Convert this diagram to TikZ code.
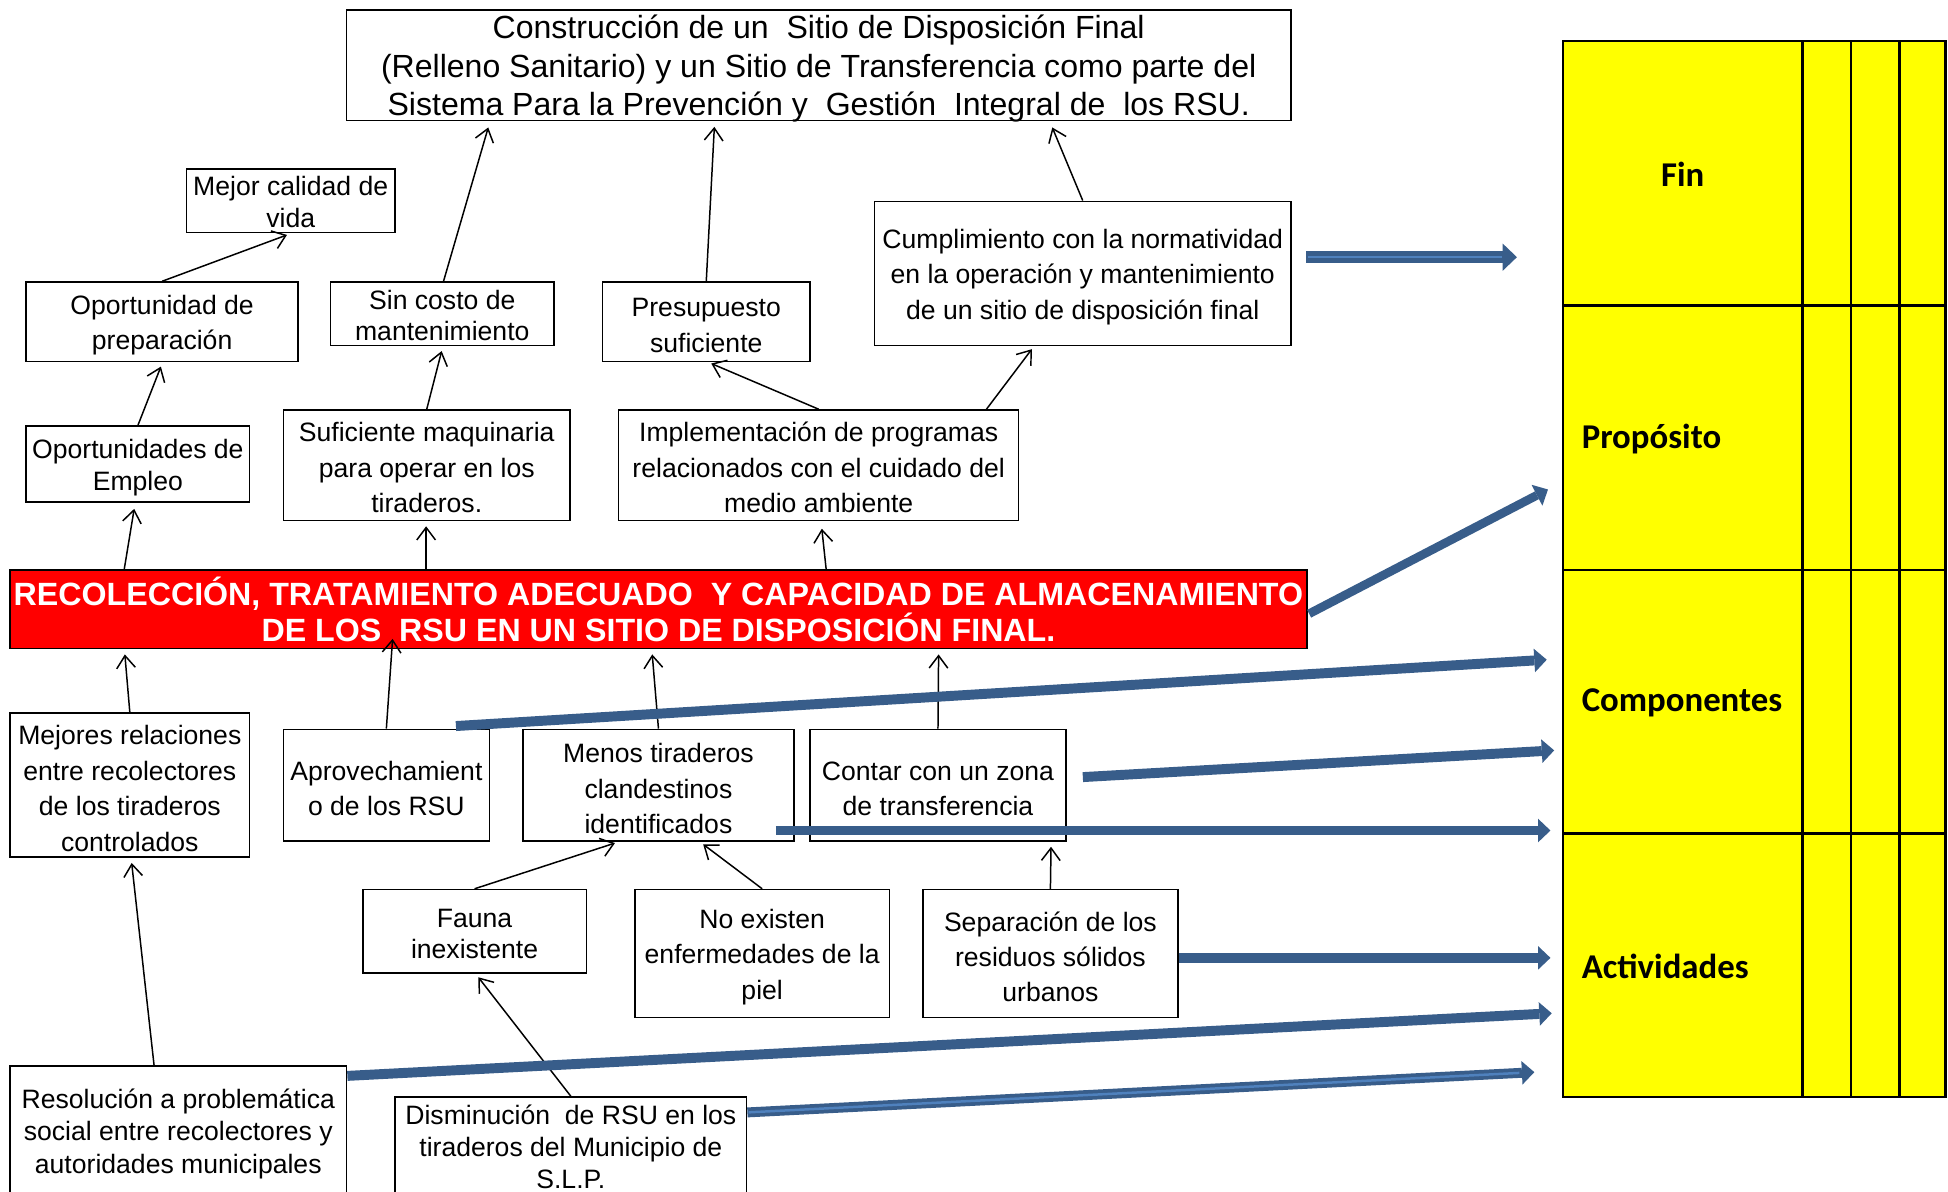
\documentclass[tikz,border=0pt]{standalone}
\usepackage{fontspec}
\setmainfont{Liberation Sans}
\newfontfamily\calib{Carlito}
\usetikzlibrary{arrows.meta,calc}
\definecolor{arrowblue}{RGB}{56,93,138}
\definecolor{stripeblue}{RGB}{79,129,189}
\definecolor{tabyellow}{RGB}{255,255,0}
\definecolor{boxred}{RGB}{255,0,0}
\newcommand\uppad{\rule{0pt}{21pt}}
\begin{document}
\begin{tikzpicture}[x=1pt,y=-1pt,
  nbox/.style={draw=black, line width=1.2pt, fill=white, inner sep=0pt, align=center,
    font=\fontsize{21.4}{28.5}\selectfont},
  tightbox/.style={nbox, font=\fontsize{21.4}{25.5}\selectfont},
  thinarr/.style={draw=black, line width=1.2pt, -{Straight Barb[length=10pt,width=15pt]}},
  bluearr/.style={draw=arrowblue, line width=8pt, -{Triangle[length=10pt,width=19pt,line width=0pt]}},
  finarr/.style={draw=arrowblue, line width=10pt, -{Triangle[length=11.5pt,width=22pt,line width=0pt]}},
  stripe/.style={draw=stripeblue, line width=2pt, shorten >=12pt, shorten <=1pt},
  lbl/.style={inner sep=0pt, font=\calib\bfseries\fontsize{28}{32}\selectfont}
]
\useasboundingbox (0,0) rectangle (1568,959);
\fill[white] (0,0) rectangle (1568,959);
\clip (0,0) rectangle (1568,959);

% ---------- table ----------
\fill[tabyellow] (1258,33) rectangle (1566,883);
\begin{scope}[line width=2pt]
\draw (1258,33) rectangle (1566,883);
\foreach \yy in {246,459,671} \draw (1258,\yy) -- (1566,\yy);
\foreach \xx in {1451,1490,1529} \draw (\xx,33) -- (\xx,883);
\end{scope}
\node[lbl] (lfin) at (1354.5,140) {Fin};
\node[lbl, anchor=west] (lprop) at (1273,353) {Propósito};
\node[lbl, anchor=west] (lcomp) at (1273,566) {Componentes};
\node[lbl, anchor=west] (lact) at (1273,778) {Actividades};

% ---------- boxes ----------
\node[nbox, minimum width=760pt, minimum height=89pt, font=\fontsize{25.8}{31}\selectfont] (top) at (659,52.5)
 {Construcción de un\ \ Sitio de Disposición Final\\(Relleno Sanitario) y un Sitio de Transferencia como parte del\\\smash{Sistema Para la Prevención y\ \ Gestión\ \ Integral de\ \ los RSU.}};
\node[tightbox, minimum width=168pt, minimum height=51pt] (mejor) at (234,161.5) {\rule{0pt}{17.5pt}Mejor calidad de\\vida};
\node[nbox, minimum width=219pt, minimum height=64pt] (oprep) at (130.5,259) {\uppad Oportunidad de\\preparación};
\node[tightbox, minimum width=180pt, minimum height=51pt] (sincosto) at (356,252.5) {\rule{0pt}{18.5pt}Sin costo de\\mantenimiento};
\node[nbox, minimum width=167pt, minimum height=64pt] (presup) at (568.5,259) {\uppad Presupuesto\\suficiente};
\node[nbox, minimum width=335pt, minimum height=116pt] (cumpl) at (871.5,220) {\uppad Cumplimiento con la normatividad\\en la operación y mantenimiento\\de un sitio de disposición final};
\node[tightbox, minimum width=180pt, minimum height=61pt] (empleo) at (111,373.5) {\uppad Oportunidades de\\Empleo};
\node[nbox, minimum width=231pt, minimum height=89pt] (sufic) at (343.5,374.5) {\rule{0pt}{19.5pt}Suficiente maquinaria\\para operar en los\\tiraderos.};
\node[nbox, minimum width=322pt, minimum height=89pt] (implem) at (659,374.5) {\rule{0pt}{19.5pt}Implementación de programas\\relacionados con el cuidado del\\medio ambiente};

\node[draw=black, line width=1.5pt, fill=boxred, text=white, inner sep=0pt, align=center,
  minimum width=1044pt, minimum height=63pt, font=\bfseries\fontsize{25.9}{29}\selectfont] (red) at (530,490.5)
 {RECOLECCIÓN, TRATAMIENTO ADECUADO\ \ Y CAPACIDAD DE ALMACENAMIENTO\\DE LOS\ \ RSU EN UN SITIO DE DISPOSICIÓN FINAL.};

\node[nbox, minimum width=193pt, minimum height=116pt] (mejores) at (104.5,632) {\uppad Mejores relaciones\\entre recolectores\\de los tiraderos\\controlados};
\node[nbox, minimum width=166pt, minimum height=90pt] (aprov) at (311,632) {\uppad Aprovechamient\\o de los RSU};
\node[nbox, minimum width=218pt, minimum height=90pt] (menos) at (530,632) {\uppad Menos tiraderos\\clandestinos\\identificados};
\node[nbox, minimum width=206pt, minimum height=90pt] (contar) at (755,632) {\uppad Contar con un zona\\de transferencia};
\node[tightbox, minimum width=180pt, minimum height=67pt] (fauna) at (382,749.5) {\rule{0pt}{19.5pt}Fauna\\inexistente};
\node[nbox, minimum width=205pt, minimum height=103pt] (noexist) at (613.5,767.5) {\uppad No existen\\enfermedades de la\\piel};
\node[nbox, minimum width=205pt, minimum height=103pt] (separ) at (845.5,767.5) {\uppad Separación de los\\residuos sólidos\\urbanos};
\node[nbox, minimum width=271pt, minimum height=104pt, font=\fontsize{21.4}{26}\selectfont] (resol) at (143.5,910) {\uppad Resolución a problemática\\social entre recolectores y\\autoridades municipales};
\node[nbox, minimum width=283pt, minimum height=80pt, font=\fontsize{21.4}{25.5}\selectfont] (dismin) at (459.5,923) {Disminución\ \ de RSU en los\\tiraderos del Municipio de\\S.L.P.};

% ---------- thin arrows ----------
\draw[thinarr] ([xshift=1pt]sincosto.north) -- ([xshift=-266pt,yshift=-5pt]top.south);
\draw[thinarr] (presup.north) -- ([xshift=-84pt,yshift=-4.5pt]top.south);
\draw[thinarr] (cumpl.north) -- ([xshift=188pt,yshift=-5pt]top.south);
\draw[thinarr] (oprep.north) -- ([xshift=-3pt,yshift=-1.5pt]mejor.south);
\draw[thinarr] (empleo.north) -- ([xshift=-1pt,yshift=-3.5pt]oprep.south);
\draw[thinarr] (sufic.north) -- ([xshift=-0.5pt,yshift=-4pt]sincosto.south);
\draw[thinarr] (implem.north) -- ([xshift=4pt,yshift=-1pt]presup.south);
\draw[thinarr] ([xshift=135pt]implem.north) -- ([xshift=-41pt,yshift=-2.5pt]cumpl.south);
\draw[thinarr] ([xshift=-430pt]red.north) -- ([xshift=-3pt,yshift=-5pt]empleo.south);
\draw[thinarr] ([xshift=-187pt]red.north) -- ([xshift=-0.5pt,yshift=-4pt]sufic.south);
\draw[thinarr] ([xshift=135pt]red.north) -- ([xshift=2.5pt,yshift=-6pt]implem.south);
\draw[thinarr] (mejores.north) -- ([xshift=-429.5pt,yshift=-4pt]red.south);
\draw[thinarr] (aprov.north) -- ([xshift=-214pt,yshift=8.5pt]red.south);
\draw[thinarr] (menos.north) -- ([xshift=-5pt,yshift=-4pt]red.south);
\draw[thinarr] (contar.north) -- ([xshift=225.5pt,yshift=-4pt]red.south);
\draw[thinarr] (fauna.north) -- ([xshift=-35pt,yshift=-1pt]menos.south);
\draw[thinarr] (noexist.north) -- ([xshift=36pt,yshift=-2pt]menos.south);
\draw[thinarr] (separ.north) -- ([xshift=91pt,yshift=-4pt]contar.south);
\draw[thinarr] ([xshift=-19.5pt]resol.north) -- ([xshift=1.5pt,yshift=-4pt]mejores.south);
\draw[thinarr] (dismin.north) -- ([xshift=3pt,yshift=-3pt]fauna.south);

% ---------- blue arrows ----------
\coordinate (sFin) at ([xshift=12pt,yshift=13pt]cumpl.east);
\coordinate (tFin) at (1221,207);
\coordinate (sProp) at ([xshift=1pt,yshift=-3.5pt]red.east);
\coordinate (tProp) at (1246,394);
\coordinate (sApr) at ([xshift=56pt,yshift=2pt]aprov.north);
\coordinate (tApr) at (1245,531);
\coordinate (sCon) at ([xshift=13pt,yshift=6.5pt]contar.east);
\coordinate (tCon) at (1251,604);
\coordinate (sMen) at ([xshift=-15pt,yshift=-36.5pt]menos.east);
\coordinate (tMen) at (1248,668.5);
\coordinate (sSep) at ([yshift=-3.5pt]separ.east);
\coordinate (tSep) at (1248,771);
\coordinate (sRes) at ([yshift=-8.6pt]resol.north east);
\coordinate (tRes) at (1249,815.6);
\coordinate (sDis) at ([yshift=-13pt]dismin.north east);
\coordinate (tDis) at (1235,863);

\draw[finarr] (sFin) -- (tFin);
\draw[stripe] (sFin) -- (tFin);
\draw[bluearr, line width=7pt] (sProp) -- (tProp);
\draw[bluearr] (sApr) -- (tApr);
\draw[bluearr] (sCon) -- (tCon);
\draw[bluearr] (sMen) -- (tMen);
\draw[bluearr] (sSep) -- (tSep);
\draw[bluearr] (sRes) -- (tRes);
\draw[bluearr] (sDis) -- (tDis);
\draw[stripe] (sDis) -- (tDis);
\end{tikzpicture}
\end{document}
